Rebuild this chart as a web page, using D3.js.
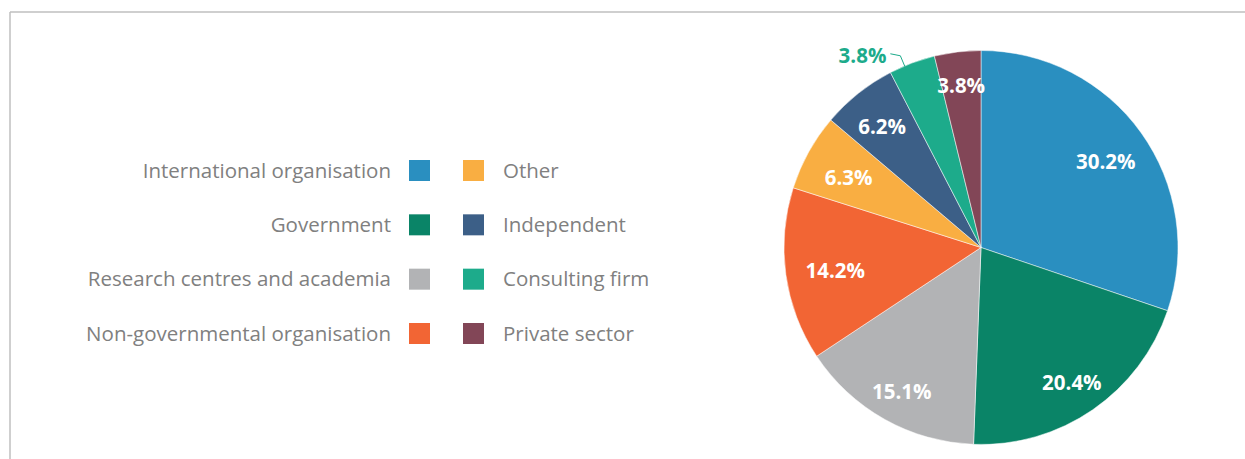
<!DOCTYPE html>
<html>
<head>
<meta charset="utf-8">
<script src="https://cdn.jsdelivr.net/npm/d3@7"></script>
<style>
html,body{margin:0;padding:0;background:#fff;}
svg{display:block;}
</style>
</head>
<body>
<svg id="chart" width="1245" height="459"></svg>
<script>
const categories = ["International organisation","Government","Research centres and academia","Non-governmental organisation","Other","Independent","Consulting firm","Private sector"];
const values = [30.2, 20.4, 15.1, 14.2, 6.3, 6.2, 3.8, 3.8];
const labels = ["30.2%","20.4%","15.1%","14.2%","6.3%","6.2%","3.8%","3.8%"];
const colors = ["#2A8FC0","#0A8467","#B2B3B5","#F26534","#F9AE42","#3C5F87","#1DAB8B","#824657"];
const outsideLabel = [false,false,false,false,false,false,true,false];

const svg = d3.select("#chart");
const W = 1245, H = 459;

// frame
svg.append("line").attr("x1",10).attr("y1",12).attr("x2",W).attr("y2",12)
  .attr("stroke","#BFBFBF").attr("stroke-width",1.5);
svg.append("line").attr("x1",10).attr("y1",12).attr("x2",10).attr("y2",H)
  .attr("stroke","#BFBFBF").attr("stroke-width",1.5);

// pie
const cx = 981, cy = 247.5, R = 197;
const pie = d3.pie().sort(null).value(d => d)(values);
const arc = d3.arc().innerRadius(0).outerRadius(R);
const g = svg.append("g").attr("transform",`translate(${cx},${cy})`);
g.selectAll("path.slice").data(pie).join("path")
  .attr("class","slice")
  .attr("d",arc)
  .attr("fill",(d,i)=>colors[i])
  .attr("stroke","#fff").attr("stroke-width",0.5);

// label placement: slightly further out for slices pointing up/down
function labelPos(d){
  const a = (d.startAngle+d.endAngle)/2;
  const c = Math.cos(a);
  const r = R*(0.745 + 0.1*c*c);
  const p = d3.arc().innerRadius(r).outerRadius(r).centroid(d);
  return [p[0], p[1] + 2.5];
}
g.selectAll("text.inlab").data(pie.filter((d,i)=>!outsideLabel[i])).join("text")
  .attr("class","inlab")
  .attr("transform",d=>`translate(${labelPos(d)})`)
  .attr("text-anchor","middle")
  .attr("dominant-baseline","central")
  .attr("font-family","'Open Sans', sans-serif")
  .attr("font-weight","bold")
  .attr("font-size",20.5)
  .attr("fill","#fff")
  .text(d=>labels[d.index]);

// outside label with leader
pie.forEach((d,i)=>{
  if(!outsideLabel[i]) return;
  const a = (d.startAngle+d.endAngle)/2 - 0.04;
  const p1 = [Math.sin(a)*(R-1), -Math.cos(a)*(R-1)];
  const p2 = [Math.sin(a)*(R+11), -Math.cos(a)*(R+11)];
  const p3 = [p2[0]-10, p2[1]-2];
  g.append("polyline")
    .attr("points",[p1,p2,p3].map(p=>p.join(",")).join(" "))
    .attr("fill","none").attr("stroke","#1DAB8B").attr("stroke-width",1);
  g.append("text")
    .attr("x",p3[0]-4).attr("y",p3[1]+1.5)
    .attr("text-anchor","end")
    .attr("dominant-baseline","central")
    .attr("font-family","'Open Sans', sans-serif")
    .attr("font-weight","bold")
    .attr("font-size",20.5)
    .attr("fill","#1DAB8B")
    .text(labels[i]);
});

// legend: two columns of four
const rowY = d3.scalePoint().domain([0,1,2,3]).range([170.5, 333.5]);
const leg = svg.append("g");
categories.forEach((c,i)=>{
  const col = Math.floor(i/4), row = i%4;
  const y = rowY(row);
  const sx = col===0 ? 409 : 463;
  leg.append("rect").attr("x",sx).attr("y",y-10.5).attr("width",21).attr("height",21).attr("fill",colors[i]);
  leg.append("text")
    .attr("x", col===0 ? 391 : 503)
    .attr("y", y - 1)
    .attr("text-anchor", col===0 ? "end" : "start")
    .attr("dominant-baseline","central")
    .attr("font-family","'Open Sans', sans-serif")
    .attr("font-weight",400)
    .attr("font-size",20.5)
    .attr("fill","#808080")
    .text(c);
});
</script>
</body>
</html>
